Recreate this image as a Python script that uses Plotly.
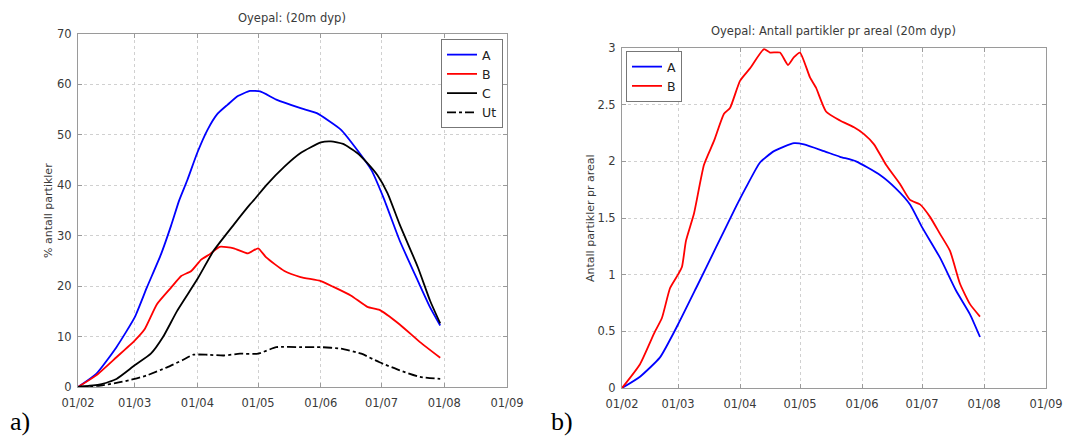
import pandas as pd
import plotly.graph_objects as go

START = "2009-02-01"
month_ticks = ["2009-02-01", "2009-03-01", "2009-04-01", "2009-05-01",
               "2009-06-01", "2009-07-01", "2009-08-01", "2009-09-01"]
month_labels = ["01/02", "01/03", "01/04", "01/05", "01/06", "01/07", "01/08", "01/09"]

# ---- panel a: % antall partikler (day offsets from 1 Feb) ----
a_A_days = [0, 9, 19, 28, 34, 41, 46, 50, 54, 59, 64, 69, 74, 79, 85, 90, 98, 110, 118, 130, 138, 145, 151, 159, 168, 174, 179]
a_A_vals = [0, 2.6, 7.9, 13.8, 19.7, 26.3, 32, 37, 41, 46.5, 51, 54.2, 56, 57.7, 58.7, 58.6, 57, 55.3, 54.3, 51, 47, 43, 37.5, 29, 21, 15.8, 12.2]

a_B_days = [0, 9, 19, 28, 33, 39, 46, 51, 56, 61, 65, 70, 77, 84, 89, 93, 102, 110, 120, 126, 135, 143, 149, 159, 169, 179]
a_B_vals = [0, 2.3, 5.9, 9.2, 11.5, 16.4, 19.7, 22, 23, 25.3, 26.3, 27.8, 27.5, 26.5, 27.5, 25.7, 23, 21.8, 21, 19.9, 18.1, 15.9, 15.3, 12.4, 8.9, 5.8]

a_C_days = [0, 11, 19, 28, 36, 42, 49, 59, 67, 77, 85, 87, 93, 102, 110, 120, 125, 131, 138, 143, 148, 153, 159, 168, 174, 179]
a_C_vals = [0, 0.5, 1.6, 4.3, 6.6, 9.9, 15.1, 21.4, 27, 32.2, 36.2, 37.1, 40, 43.7, 46.4, 48.5, 48.7, 48.2, 46.4, 44.4, 42, 38.4, 32.2, 23.7, 17.1, 12.6]

a_Ut_days = [0, 11, 19, 28, 34, 44, 52, 57, 64, 72, 80, 89, 98, 110, 120, 130, 140, 149, 159, 169, 179]
a_Ut_vals = [0, 0.3, 0.8, 1.6, 2.3, 3.9, 5.4, 6.4, 6.4, 6.25, 6.6, 6.6, 7.9, 7.9, 7.9, 7.6, 6.6, 4.9, 3.3, 2.0, 1.6]

# ---- panel b: Antall partikler pr areal ----
b_A_days = [0, 9, 19, 28, 37, 47, 57, 62, 69, 76, 86, 91, 101, 109, 117, 129, 137, 144, 150, 159, 167, 174, 179]
b_A_vals = [0, 0.1, 0.27, 0.56, 0.88, 1.24, 1.6, 1.77, 1.99, 2.09, 2.16, 2.15, 2.09, 2.04, 2.0, 1.88, 1.76, 1.62, 1.42, 1.15, 0.86, 0.65, 0.45]

b_B_days = [0, 9, 16, 20, 24, 28, 30, 32, 36, 41, 46, 51, 54, 59, 64, 71, 74, 79, 83, 86, 89, 94, 97, 102, 109, 116, 121, 126, 132, 139, 144, 149, 154, 159, 164, 169, 174, 179]
b_B_vals = [0, 0.21, 0.48, 0.62, 0.88, 1.0, 1.07, 1.3, 1.54, 1.97, 2.18, 2.42, 2.47, 2.71, 2.82, 2.99, 2.96, 2.96, 2.85, 2.92, 2.96, 2.74, 2.65, 2.44, 2.36, 2.3, 2.24, 2.15, 1.97, 1.8, 1.66, 1.62, 1.51, 1.36, 1.21, 0.92, 0.74, 0.63]


def to_dates(days):
    return pd.Timestamp(START) + pd.to_timedelta(days, unit="D")


W, H = 1073, 439
TXT = "#3a3a3a"
FONT = "DejaVu Sans"

fig = go.Figure()
lw = 1.8


def line(color, dash="solid"):
    return dict(color=color, width=lw, dash=dash, shape="spline", smoothing=0.5)


fig.add_trace(go.Scatter(x=to_dates(a_A_days), y=a_A_vals, mode="lines", name="A",
                         line=line("#0000ff"), xaxis="x", yaxis="y", legend="legend"))
fig.add_trace(go.Scatter(x=to_dates(a_B_days), y=a_B_vals, mode="lines", name="B",
                         line=line("#ff0000"), xaxis="x", yaxis="y", legend="legend"))
fig.add_trace(go.Scatter(x=to_dates(a_C_days), y=a_C_vals, mode="lines", name="C",
                         line=line("#000000"), xaxis="x", yaxis="y", legend="legend"))
fig.add_trace(go.Scatter(x=to_dates(a_Ut_days), y=a_Ut_vals, mode="lines", name="Ut",
                         line=line("#000000", "dashdot"), xaxis="x", yaxis="y", legend="legend"))
fig.add_trace(go.Scatter(x=to_dates(b_A_days), y=b_A_vals, mode="lines", name="A",
                         line=line("#0000ff"), xaxis="x2", yaxis="y2", legend="legend2"))
fig.add_trace(go.Scatter(x=to_dates(b_B_days), y=b_B_vals, mode="lines", name="B",
                         line=line("#ff0000"), xaxis="x2", yaxis="y2", legend="legend2"))

axis_common = dict(showline=True, linecolor="#9a9a9a", linewidth=1, mirror="ticks",
                   ticks="inside", ticklen=4, tickcolor="#9a9a9a",
                   showgrid=True, gridcolor="#d0d0d0", griddash="dot", gridwidth=1,
                   zeroline=False, tickfont=dict(family=FONT, size=11.5, color=TXT))

xa = dict(axis_common, type="date", range=[month_ticks[0], month_ticks[-1]],
          tickvals=month_ticks, ticktext=month_labels, ticklabelstandoff=5)

fig.update_layout(
    width=W, height=H,
    margin=dict(l=0, r=0, t=0, b=0, autoexpand=False),
    paper_bgcolor="white", plot_bgcolor="white",
    showlegend=True,
    xaxis=dict(xa, domain=[78 / W, 507 / W], anchor="y"),
    yaxis=dict(axis_common, domain=[1 - 387 / H, 1 - 34 / H], range=[0, 70], dtick=10,
               anchor="x", ticklabelstandoff=3),
    xaxis2=dict(xa, domain=[622 / W, 1046 / W], anchor="y2"),
    yaxis2=dict(axis_common, domain=[1 - 388 / H, 1 - 48 / H], range=[0, 3], dtick=0.5,
                anchor="x2", ticklabelstandoff=3),
    legend=dict(x=503 / W, y=1 - 39 / H, xanchor="right", yanchor="top",
                bgcolor="white", bordercolor="#777", borderwidth=1,
                font=dict(family=FONT, size=12.5, color="#222"), itemwidth=30, tracegroupgap=0),
    legend2=dict(x=626 / W, y=1 - 51 / H, xanchor="left", yanchor="top",
                 bgcolor="white", bordercolor="#777", borderwidth=1,
                 font=dict(family=FONT, size=12.5, color="#222"), itemwidth=30, tracegroupgap=0),
    annotations=[
        dict(text="Oyepal: (20m dyp)", x=292 / W, y=1 - 18 / H, xref="paper", yref="paper",
             showarrow=False, xanchor="center", yanchor="middle",
             font=dict(family=FONT, size=11.5, color=TXT)),
        dict(text="Oyepal: Antall partikler pr areal (20m dyp)", x=833 / W, y=1 - 31 / H,
             xref="paper", yref="paper", showarrow=False, xanchor="center", yanchor="middle",
             font=dict(family=FONT, size=11.5, color=TXT)),
        dict(text="% antall partikler", x=49 / W, y=1 - 210 / H, xref="paper", yref="paper",
             showarrow=False, textangle=-90, xanchor="center", yanchor="middle",
             font=dict(family=FONT, size=11, color=TXT)),
        dict(text="Antall partikler pr areal", x=591 / W, y=1 - 218 / H, xref="paper", yref="paper",
             showarrow=False, textangle=-90, xanchor="center", yanchor="middle",
             font=dict(family=FONT, size=11, color=TXT)),
        dict(text="a)", x=8 / W, y=1 - 421 / H, xref="paper", yref="paper",
             showarrow=False, xanchor="left", yanchor="middle",
             font=dict(family="Liberation Serif", size=26, color="black")),
        dict(text="b)", x=549 / W, y=1 - 421 / H, xref="paper", yref="paper",
             showarrow=False, xanchor="left", yanchor="middle",
             font=dict(family="Liberation Serif", size=26, color="black")),
    ],
)

fig.write_html("out.html", config={"displayModeBar": False},
               post_script="document.body.style.margin='0px';document.body.style.overflow='hidden';")
